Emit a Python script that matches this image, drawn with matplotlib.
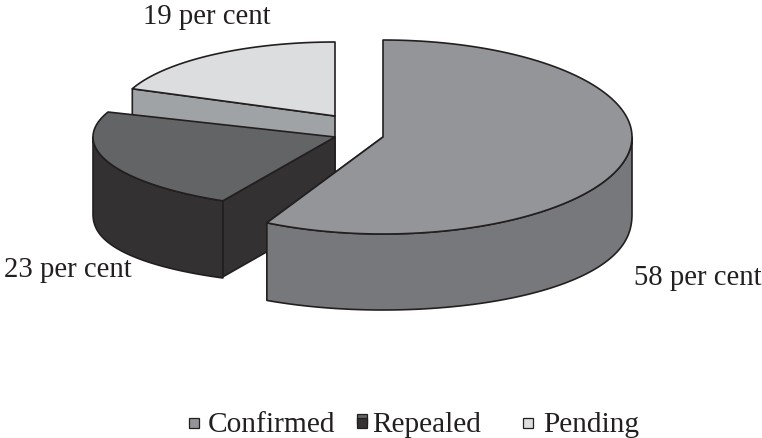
import numpy as np
import matplotlib
matplotlib.use('Agg')
import matplotlib.pyplot as plt
from matplotlib.patches import Polygon

plt.rcParams['font.family'] = ['Liberation Serif', 'DejaVu Serif']

names = ['Confirmed', 'Repealed', 'Pending']
shares = [58, 23, 19]
slice_labels = ['58 per cent', '23 per cent', '19 per cent']

top_colors = ['#939598', '#636466', '#dcddde']
side_colors = ['#77787b', '#333132', '#a0a3a6']
edge = '#231f20'

# each slice was pulled out on its own, so centre and radii differ (pixels)
centres = [(383, 137), (335, 137), (335, 116)]
radii = [(249, 97), (242, 72), (218, 74)]
# small angle shifts from the chart's perspective
nudge = [(0, -1), (-1.2, -1.3), (0, 0)]
cut_face = [1, 0, 0]
depth = 76
label_pos = [(634, 285), (4, 277), (143, 24)]
legend_x = [208, 372, 543]
marker_x = [194, 362, 528]

fig = plt.figure(figsize=(7.62, 4.38), dpi=100)
ax = fig.add_axes([0, 0, 1, 1])
ax.set_xlim(0, 762)
ax.set_ylim(438, 0)
ax.axis('off')


def arc(c, r, a1, a2, dy=0, squash=1.0):
    t = np.radians(np.linspace(a1, a2, 120))
    ct = np.cos(t)
    return np.column_stack([c[0] + r[0] * np.sin(t),
                            c[1] + dy - r[1] * np.sign(ct) * np.abs(ct) ** squash])


def poly(pts, color, z):
    ax.add_patch(Polygon(pts, closed=True, facecolor=color, edgecolor=edge,
                         linewidth=1.2, joinstyle='round', zorder=z))


bounds = np.cumsum([0] + shares) * 3.6
# painted back to front
for i in [2, 1, 0]:
    c, r = centres[i], radii[i]
    a1, a2 = bounds[i] + nudge[i][0], bounds[i + 1] + nudge[i][1]
    z = (3 - i) * 10
    centre = np.array([c])
    a = (a1, a2)[cut_face[i]]
    p = arc(c, r, a, a)[:1]
    poly(np.vstack([centre, p, p + [0, depth], centre + [0, depth]]), side_colors[i], z)
    # outer wall, only the part facing the viewer
    f1, f2 = max(a1, 90), min(a2, 270)
    if f2 > f1:
        poly(np.vstack([arc(c, r, f1, f2), arc(c, r, f2, f1, depth, 0.85)]), side_colors[i], z + 1)
    poly(np.vstack([centre, arc(c, r, a1, a2)]), top_colors[i], z + 2)

for i in range(3):
    ax.text(label_pos[i][0], label_pos[i][1], slice_labels[i], fontsize=20.7,
            color=edge, va='baseline', ha='left', zorder=50)
    if i == 1:
        # the dark key shows a strip of its lighter top
        ax.plot([marker_x[i]], [419], marker='s', markersize=7.8, markerfacecolor=top_colors[i],
                markeredgecolor=edge, markeredgewidth=0.9, zorder=49)
    ax.plot([marker_x[i]], [423], marker='s', markersize=7.8, markerfacecolor=side_colors[i] if i == 1 else top_colors[i],
            markeredgecolor=edge, markeredgewidth=0.9, zorder=50)
    ax.text(legend_x[i], 432.5, names[i], fontsize=21.2, color=edge, va='baseline', ha='left', zorder=50)

fig.savefig('out.png', dpi=100)
